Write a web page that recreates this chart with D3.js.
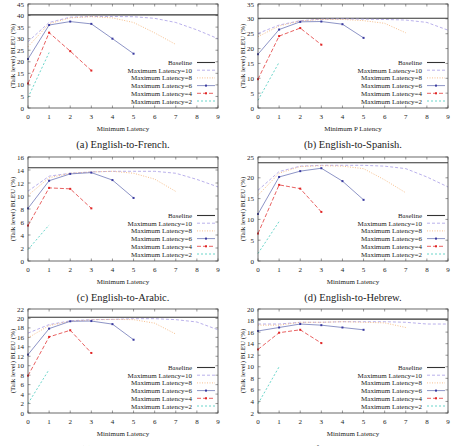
<!DOCTYPE html>
<meta http-equiv="content-type" content="text/html; charset=utf-8" />
<html lang="en">
<head>
<title>Latency vs BLEU</title>
<script src="https://d3js.org/d3.v7.min.js"></script>
<style>
body { margin: 0; background: #fff; }
svg { display: block; }
text { font-family: "Liberation Serif", "Times New Roman", "DejaVu Serif", serif; fill: #222; }
</style>
</head>
<body>
<div id="plot"></div>
</body>
<script>
var width = 452;
var height = 446;

// legend labels, one per max-latency setting
var seriesNames = ["Maximum Latency=10", "Maximum Latency=8", "Maximum Latency=6", "Maximum Latency=4", "Maximum Latency=2"];
var xTicks = [0, 1, 2, 3, 4, 5, 6, 7, 8, 9];

// BLEU values by minimum latency 0,1,2,...  (ML10, ML8, ML6, ML4, ML2)
var french = [
  [28.7, 37, 39.3, 39.6, 39.6, 39.5, 38.8, 37, 33.8, 30],
  [26.5, 36.5, 39, 39.5, 39, 37, 32.5, 27.5],
  [21.2, 35.9, 37.4, 36.4, 30, 23.5],
  [10.6, 32.6, 24.6, 16.2],
  [4.5, 24]
];
var spanish = [
  [25.1, 27.9, 29.4, 29.9, 30, 29.9, 29.8, 29.6, 28.8, 26.2],
  [24, 27.6, 29.3, 29.8, 29.8, 29.4, 28.5, 25.3],
  [18.1, 26.4, 29, 29.1, 28.2, 23.6],
  [9.7, 24.2, 26.9, 21.3],
  [2.6, 15.4]
];
var arabic = [
  [10.75, 13.05, 13.5, 13.7, 13.8, 13.8, 13.8, 13.5, 12.55, 11.4],
  [10.1, 12.8, 13.5, 13.7, 13.8, 13.5, 12.6, 10.7],
  [8.1, 12.35, 13.4, 13.6, 12.45, 9.7],
  [5.45, 11.25, 11.1, 8.1],
  [1.75, 5.55]
];
var hebrew = [
  [17, 21.5, 22.8, 23, 23, 23, 22.8, 22.2, 20.2, 17.8],
  [15.8, 21.1, 22.7, 22.9, 22.8, 22.2, 19.5, 16.4],
  [11.3, 20.2, 21.6, 22.3, 19.2, 14.7],
  [6.6, 18.3, 17.4, 11.8],
  [1.8, 9.5]
];
var farsi = [
  [16.9, 18.7, 19.5, 19.75, 19.8, 19.95, 19.95, 19.75, 19.25, 17.6],
  [15.9, 18.5, 19.4, 19.7, 19.8, 19.75, 19, 16.7],
  [12.35, 17.85, 19.4, 19.45, 18.8, 15.5],
  [7.9, 16.1, 17.5, 12.7],
  [2, 9.2]
];
var thai = [
  [17.4, 17.4, 17.7, 17.7, 17.8, 17.8, 17.8, 17.7, 17.4, 17.4],
  [17.2, 17.2, 17.7, 17.7, 17.8, 17.7, 17.6, 16.8],
  [16.2, 16.8, 17.4, 17.2, 16.8, 16.4],
  [13, 15.9, 16.4, 14.1],
  [3.6, 10]
];
var baselines = [40.3, 30.2, 14.35, 23.6, 20.25, 18.25];
var captions = ["(a) English-to-French.", "(b) English-to-Spanish.", "(c) English-to-Arabic.",
  "(d) English-to-Hebrew.", "(e) English-to-Farsi.", "(f) English-to-Thai."];
var xTitles = ["Minimum Latency", "Minimum P Latency", "Minimum Latency", "Minimum Latency", "Minimum Latency", "Minimum Latency"];
var yDomains = [[0, 45], [0, 35], [0, 16], [0, 25], [0, 22], [2, 20]];
var yTickSteps = [5, 5, 2, 5, 2, 2];
var panelData = [french, spanish, arabic, hebrew, farsi, thai];

var colors = ["#9a8fe0", "#f2a25e", "#3a3aa0", "#e02626", "#35c4b8"];
var lineColors = ["#a89de6", "#f4ae70", "#7078b8", "#e23a3a", "#45cabd"];
var dashes = ["3,2", "1,1.5", null, "4,2", "2,2"];
var showPoints = [false, false, true, true, false];

var svg = d3.select("#plot").append("svg")
  .attr("width", width).attr("height", height);

var colLeft = [28, 258];
var rowTop = [4, 157, 309];
var pw = 190, ph = 104;

panelData.forEach(function(series, p) {
  var left = colLeft[p % 2], top = rowTop[Math.floor(p / 2)];
  var g = svg.append("g").attr("transform", "translate(" + left + "," + top + ")");

  var x = d3.scaleLinear().domain([0, 9]).range([0, pw]);
  var y = d3.scaleLinear().domain(yDomains[p]).range([ph, 0]);
  var yTicks = d3.range(yDomains[p][0], yDomains[p][1] + 0.001, yTickSteps[p]);

  // ticks on all four sides, pointing inward (gnuplot style)
  var tl = 2.5;
  g.selectAll(".xt").data(xTicks).enter().append("path")
    .attr("d", function(d) { return "M" + x(d) + "," + ph + "v" + (-tl) + "M" + x(d) + ",0v" + tl; })
    .attr("stroke", "#555").attr("stroke-width", 0.6);
  g.selectAll(".yt").data(yTicks).enter().append("path")
    .attr("d", function(d) { return "M0," + y(d) + "h" + tl + "M" + pw + "," + y(d) + "h" + (-tl); })
    .attr("stroke", "#555").attr("stroke-width", 0.6);

  g.selectAll(".xl").data(xTicks).enter().append("text")
    .attr("x", d => x(d)).attr("y", ph + 10.5)
    .attr("text-anchor", "middle").attr("font-size", 7).text(d => d);
  g.selectAll(".yl").data(yTicks).enter().append("text")
    .attr("x", -4).attr("y", d => y(d) + 2.5)
    .attr("text-anchor", "end").attr("font-size", 7).text(d => d);

  g.append("text").attr("x", pw / 2).attr("y", ph + 22.5)
    .attr("text-anchor", "middle").attr("font-size", 7).text(xTitles[p]);
  g.append("text").attr("transform", "translate(-13," + (ph / 2) + ") rotate(-90)")
    .attr("text-anchor", "middle").attr("font-size", 7).text("(Talk level) BLEU (%)");
  g.append("text").attr("x", pw / 2).attr("y", ph + 40)
    .attr("text-anchor", "middle").attr("font-size", 10.5).text(captions[p]);

  // baseline
  g.append("line").attr("x1", 0).attr("x2", pw)
    .attr("y1", y(baselines[p])).attr("y2", y(baselines[p]))
    .attr("stroke", "#333").attr("stroke-width", 1.1);

  var line = d3.line().x((d, i) => x(i)).y(d => y(d));
  series.forEach(function(vals, s) {
    g.append("path").attr("d", line(vals))
      .attr("fill", "none").attr("stroke", lineColors[s]).attr("stroke-width", 0.8)
      .attr("stroke-dasharray", dashes[s]);
    if (showPoints[s]) {
      g.selectAll(".pt" + s).data(vals).enter().append("rect")
        .attr("x", (d, i) => x(i) - 1).attr("y", d => y(d) - 1)
        .attr("width", 2).attr("height", 2).attr("fill", colors[s]);
    }
  });

  // legend
  var legRows = ["Baseline"].concat(seriesNames);
  legRows.forEach(function(name, r) {
    var ly = ph - 7 - (5 - r) * 7.7;
    g.append("text").attr("x", pw - 26).attr("y", ly + 2.5)
      .attr("text-anchor", "end").attr("font-size", 7).text(name);
    var ln = g.append("line").attr("x1", pw - 21).attr("x2", pw - 3)
      .attr("y1", ly).attr("y2", ly);
    if (r == 0) {
      ln.attr("stroke", "#333").attr("stroke-width", 1.1);
    } else {
      ln.attr("stroke", lineColors[r - 1]).attr("stroke-width", 0.8)
        .attr("stroke-dasharray", dashes[r - 1]);
      if (showPoints[r - 1]) {
        g.append("rect").attr("x", pw - 13).attr("y", ly - 1)
          .attr("width", 2).attr("height", 2).attr("fill", colors[r - 1]);
      }
    }
  });

  g.append("rect").attr("width", pw).attr("height", ph)
    .attr("fill", "none").attr("stroke", "#444").attr("stroke-width", 0.8);
});
</script>
</html>
